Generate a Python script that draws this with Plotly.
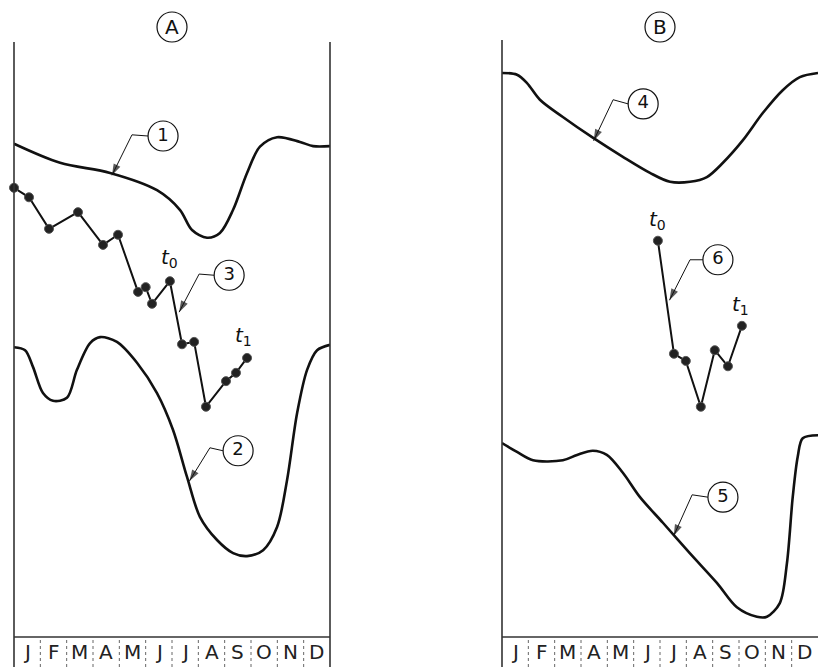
import plotly.graph_objects as go

# month strip
months = ["J", "F", "M", "A", "M", "J", "J", "A", "S", "O", "N", "D"]

# panel A: curves 1 and 2 (x in months from 1 Jan, y in relative units 0-100)
c1_x = [0, 1.75, 3.65, 5.43, 6.3, 6.76, 7.33, 7.82, 8.32, 8.85, 9.34, 9.99, 10.86, 11.36, 12]
c1_y = [82.9, 79.7, 78.0, 75.1, 71.8, 68.4, 67.1, 67.9, 71.8, 78.0, 82.4, 84.0, 83.2, 82.5, 82.5]

c2_x = [0, 0.42, 0.72, 1.10, 1.48, 2.01, 2.39, 2.89, 3.27, 3.91, 4.67, 5.43, 6.04, 6.57,
        7.06, 7.71, 8.32, 8.85, 9.46, 9.99, 10.37, 10.75, 11.13, 11.51, 12]
c2_y = [48.7, 48.2, 45.4, 41.0, 39.7, 40.2, 44.9, 49.4, 50.4, 49.6, 46.1, 41.0, 34.8, 26.9,
        20.2, 16.3, 14.1, 13.6, 14.6, 18.5, 26.4, 37.6, 44.9, 48.2, 49.1]

# panel A: observed series 3
s3_x = [0, 0.57, 1.33, 2.43, 3.38, 3.95, 4.71, 5.0, 5.24, 5.92, 6.38, 6.84, 7.29, 8.05, 8.43, 8.85]
s3_y = [75.5, 73.9, 68.6, 71.4, 65.9, 67.6, 58.0, 58.8, 56.0, 59.8, 49.2, 49.6, 38.7, 43.0, 44.4, 46.9]

# panel B: curves 4 and 5
c4_x = [0, 0.57, 0.95, 1.44, 2.31, 3.42, 4.59, 5.62, 6.38, 7.14, 7.78, 8.39, 9.15, 9.91, 10.66, 11.31, 12]
c4_y = [94.8, 94.5, 93.1, 90.3, 87.4, 84.0, 80.7, 78.0, 76.5, 76.5, 77.3, 79.7, 83.5, 88.1, 91.9, 94.1, 94.8]

c5_x = [0, 0.57, 1.18, 2.31, 2.85, 3.45, 3.98, 4.59, 5.24, 6.11, 7.13, 8.16, 8.92, 9.68,
        10.06, 10.55, 10.82, 11.04, 11.23, 11.42, 12]
c5_y = [32.6, 31.1, 29.7, 29.7, 30.6, 31.3, 30.6, 27.6, 23.5, 19.2, 14.1, 9.1, 5.0, 3.4,
        3.4, 5.7, 12.4, 23.5, 30.3, 33.4, 33.9]

# panel B: observed series 6
s6_x = [5.92, 6.53, 6.98, 7.55, 8.08, 8.58, 9.11]
s6_y = [66.6, 47.6, 46.4, 38.7, 48.2, 45.5, 52.3]

# callouts: label, axis, circle centre, kink, arrow tip
callouts = [
    ("1", "x", (5.66, 84.2), (4.48, 84.4), (3.72, 77.6)),
    ("2", "x", (8.51, 31.3), (7.44, 31.8), (6.66, 26.2)),
    ("3", "x", (8.17, 60.8), (7.03, 61.0), (6.27, 54.6)),
    ("4", "x2", (5.36, 89.6), (4.22, 90.3), (3.48, 83.4)),
    ("5", "x2", (8.39, 23.5), (7.22, 23.9), (6.52, 17.0)),
    ("6", "x2", (8.20, 63.4), (7.14, 63.4), (6.36, 56.6)),
]
# t0 / t1 labels
t_labels = [
    ("x", 5.92, 63.7, "t", "0"),
    ("x", 8.70, 50.6, "t", "1"),
    ("x2", 5.89, 70.1, "t", "0"),
    ("x2", 9.04, 55.8, "t", "1"),
]

W, H = 818, 667
ink = "#111111"
FONT = "DejaVu Sans"

fig = go.Figure()


def yax(ax):
    return "y" if ax == "x" else "y2"


def curve(x, y, ax):
    fig.add_trace(go.Scatter(x=x, y=y, xaxis=ax, yaxis=yax(ax), mode="lines",
                             line=dict(color=ink, width=2.6, shape="spline", smoothing=0.9),
                             hoverinfo="skip"))


def series(x, y, ax):
    fig.add_trace(go.Scatter(x=x, y=y, xaxis=ax, yaxis=yax(ax), mode="lines+markers",
                             line=dict(color=ink, width=2),
                             marker=dict(size=9, color="#222", line=dict(color="#555", width=1)),
                             cliponaxis=False, hoverinfo="skip"))


curve(c1_x, c1_y, "x")
curve(c2_x, c2_y, "x")
series(s3_x, s3_y, "x")
curve(c4_x, c4_y, "x2")
curve(c5_x, c5_y, "x2")
series(s6_x, s6_y, "x2")

# callout leaders and circled numbers
r = 0.57
for lab, ax, (cx, cy), (kx, ky), (tx, ty) in callouts:
    fig.add_trace(go.Scatter(x=[cx - r, kx, tx], y=[cy, ky, ty], xaxis=ax, yaxis=yax(ax),
                             mode="lines+markers",
                             line=dict(color=ink, width=1),
                             marker=dict(symbol="arrow", size=[0, 0, 12], angleref="previous",
                                         color=ink, line=dict(width=0)),
                             cliponaxis=False, hoverinfo="skip"))
    fig.add_trace(go.Scatter(x=[cx], y=[cy], xaxis=ax, yaxis=yax(ax), mode="markers+text",
                             text=[lab], textposition="middle center",
                             textfont=dict(family=FONT, size=18, color=ink),
                             marker=dict(symbol="circle-open", size=30, color=ink,
                                         line=dict(width=1.2)),
                             cliponaxis=False, hoverinfo="skip"))

annotations = []
for ax, x, y, t, sub in t_labels:
    annotations.append(dict(x=x, y=y, xref=ax, yref=yax(ax),
                            text="<i>%s</i><sub>%s</sub>" % (t, sub), showarrow=False,
                            font=dict(family=FONT, size=20, color=ink)))

# panel geometry (paper coordinates)
xa = [14 / W, 330 / W]
xb = [502 / W, 1.0]
strip_top = 30 / H
top_a = (H - 42) / H
top_b = (H - 40) / H

shapes = []
for ax, dom_top, right in (("x", top_a, True), ("x2", top_b, False)):
    xd = ax + " domain"
    shapes.append(dict(type="line", xref=xd, yref="paper", x0=0, x1=0, y0=0, y1=dom_top,
                       line=dict(color="#333", width=1.6)))
    if right:
        shapes.append(dict(type="line", xref=xd, yref="paper", x0=1, x1=1, y0=0, y1=dom_top,
                           line=dict(color="#333", width=1.6)))
    shapes.append(dict(type="line", xref=xd, yref="paper", x0=0, x1=1, y0=strip_top, y1=strip_top,
                       line=dict(color="#333", width=1.6)))
    for i in range(1, 12):
        shapes.append(dict(type="line", xref=ax, yref="paper", x0=i, x1=i, y0=0, y1=strip_top,
                           line=dict(color="#666", width=1, dash="dot")))
    for i, m in enumerate(months):
        annotations.append(dict(x=i + 0.5, y=strip_top / 2, xref=ax, yref="paper", text=m,
                                showarrow=False, yanchor="middle",
                                font=dict(family=FONT, size=20, color="#222")))

# circled panel letters
for lab, xc in (("A", 172 / W), ("B", 660 / W)):
    yc = (H - 27) / H
    shapes.append(dict(type="circle", xref="paper", yref="paper", xsizemode="pixel",
                       ysizemode="pixel", xanchor=xc, yanchor=yc, x0=-15, x1=15, y0=-15, y1=15,
                       line=dict(color=ink, width=1.2)))
    annotations.append(dict(x=xc, y=yc, xref="paper", yref="paper", text=lab, showarrow=False,
                            xanchor="center", yanchor="middle",
                            font=dict(family=FONT, size=20, color=ink)))

axis_common = dict(showgrid=False, zeroline=False, showticklabels=False, ticks="",
                   showline=False, fixedrange=True)
fig.update_layout(
    width=W, height=H,
    margin=dict(l=0, r=0, t=0, b=0),
    paper_bgcolor="white", plot_bgcolor="white",
    showlegend=False,
    xaxis=dict(domain=xa, range=[0, 12], **axis_common),
    yaxis=dict(domain=[strip_top, top_a], range=[0, 100], anchor="x", **axis_common),
    xaxis2=dict(domain=xb, range=[0, 12], anchor="y2", **axis_common),
    yaxis2=dict(domain=[strip_top, top_a], range=[0, 100], anchor="x2", **axis_common),
    shapes=shapes,
    annotations=annotations,
)

# page margin off so the figure sits at the window's corner
fig.write_html("out.html", config={"displayModeBar": False},
               post_script="document.body.style.margin='0';")
